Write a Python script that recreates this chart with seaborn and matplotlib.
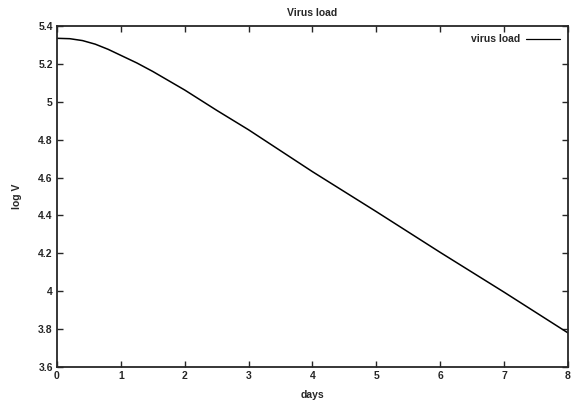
import seaborn as sns
import matplotlib
matplotlib.use("Agg")
import matplotlib.pyplot as plt
import pandas as pd

# values
days = [0, 0.2, 0.4, 0.6, 0.8, 1, 1.25, 1.5, 2, 2.5, 3, 4, 5, 6, 7, 8]
log_v = [5.335, 5.333, 5.323, 5.304, 5.277, 5.245, 5.205, 5.160, 5.062,
         4.955, 4.852, 4.631, 4.420, 4.205, 3.995, 3.780]
series_name = "virus load"
x_ticks = [0, 1, 2, 3, 4, 5, 6, 7, 8]
y_ticks = [3.6, 3.8, 4, 4.2, 4.4, 4.6, 4.8, 5, 5.2, 5.4]
y_tick_labels = ["3.6", "3.8", "4", "4.2", "4.4", "4.6", "4.8", "5", "5.2", "5.4"]


def render_plot(output_path: str):
    df = pd.DataFrame({"days": days, "log V": log_v, "series": series_name})

    sns.set_style("ticks")
    plt.rcParams["font.family"] = ["Liberation Sans", "DejaVu Sans"]
    plt.rcParams["font.weight"] = "bold"

    fig = plt.figure(figsize=(5.71, 4.05), dpi=100)
    ax = fig.add_axes([0.0998, 0.0938, 0.8949, 0.842])

    sns.lineplot(data=df, x="days", y="log V", hue="series",
                 palette=["black"], linewidth=1.1, ax=ax)

    ax.set(xlim=(0, 8), ylim=(3.6, 5.4))
    ax.set_xticks(x_ticks)
    ax.set_yticks(y_ticks)
    ax.set_yticklabels(y_tick_labels)
    ax.tick_params(axis="both", which="major", direction="in", length=4,
                   width=1, top=True, right=True, labelsize=7.5, pad=3)
    for side in ax.spines.values():
        side.set_linewidth(1.3)
        side.set_visible(True)

    ax.set_xlabel("days", fontsize=7.5, fontweight="bold", labelpad=6)
    ax.set_ylabel("log V", fontsize=7.5, fontweight="bold", labelpad=12)
    ax.set_title("Virus load", fontsize=7.5, fontweight="bold", pad=7)

    legend = ax.legend(loc="upper right", frameon=False, markerfirst=False,
                       fontsize=7.5, handlelength=3.2, handletextpad=0.6,
                       borderaxespad=0.4)
    for line in legend.get_lines():
        line.set_linewidth(0.9)

    plt.savefig(output_path, dpi=100)


if __name__ == "__main__":
    render_plot("out.png")
